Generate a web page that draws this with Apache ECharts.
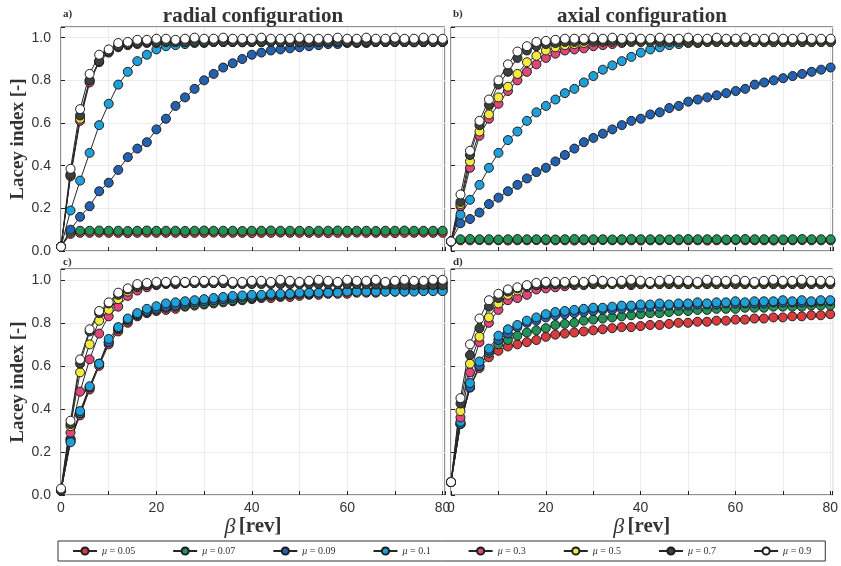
<!DOCTYPE html>
<html>
<head>
<meta charset="utf-8">
<script src="https://cdn.jsdelivr.net/npm/echarts/dist/echarts.min.js"></script>
<style>
  html, body { margin: 0; padding: 0; background: #fff; }
  #chart { width: 841px; height: 566px; }
</style>
</head>
<body>
<div id="chart"></div>
<script>
// revolutions (x values shared by every curve)
const betaRev = [
  0, 2, 4, 6, 8, 10, 12, 14, 16, 18,
  20, 22, 24, 26, 28, 30, 32, 34, 36, 38,
  40, 42, 44, 46, 48, 50, 52, 54, 56, 58,
  60, 62, 64, 66, 68, 70, 72, 74, 76, 78,
  80
];
const xTicks = [0, 20, 40, 60, 80];
const yTicks = [0, 0.2, 0.4, 0.6, 0.8, 1.0];
const muNames = ["μ = 0.05", "μ = 0.07", "μ = 0.09", "μ = 0.1", "μ = 0.3", "μ = 0.5", "μ = 0.7", "μ = 0.9"];
const muColors = ["#d93b3f", "#239257", "#2262b0", "#1fa0d8", "#e04679", "#f2ea3e", "#3c403f", "#ffffff"];

// a) radial configuration
const panelAMu005 = [
  0.02, 0.080, 0.085, 0.085, 0.086, 0.085, 0.085, 0.084, 0.085, 0.086,
  0.085, 0.085, 0.085, 0.084, 0.085, 0.085, 0.086, 0.085, 0.085, 0.085,
  0.084, 0.085, 0.085, 0.086, 0.085, 0.085, 0.085, 0.085, 0.084, 0.085,
  0.085, 0.086, 0.085, 0.085, 0.085, 0.084, 0.085, 0.085, 0.086, 0.085,
  0.085
];
const panelAMu007 = [
  0.02, 0.090, 0.095, 0.095, 0.096, 0.095, 0.095, 0.094, 0.095, 0.096,
  0.095, 0.095, 0.095, 0.094, 0.095, 0.096, 0.095, 0.095, 0.095, 0.094,
  0.095, 0.095, 0.096, 0.095, 0.095, 0.095, 0.094, 0.095, 0.095, 0.096,
  0.095, 0.095, 0.095, 0.094, 0.095, 0.095, 0.096, 0.095, 0.095, 0.095,
  0.095
];
const panelAMu009 = [
  0.02, 0.10, 0.16, 0.21, 0.28, 0.32, 0.38, 0.44, 0.48, 0.51,
  0.57, 0.62, 0.68, 0.72, 0.76, 0.80, 0.83, 0.86, 0.88, 0.90,
  0.92, 0.93, 0.94, 0.945, 0.95, 0.955, 0.96, 0.965, 0.97, 0.97,
  0.975, 0.975, 0.975, 0.98, 0.98, 0.98, 0.98, 0.98, 0.98, 0.98,
  0.98
];
const panelAMu01 = [
  0.02, 0.19, 0.33, 0.46, 0.59, 0.69, 0.78, 0.84, 0.89, 0.92,
  0.945, 0.96, 0.965, 0.97, 0.975, 0.975, 0.98, 0.98, 0.98, 0.98,
  0.98, 0.98, 0.98, 0.98, 0.98, 0.98, 0.98, 0.98, 0.98, 0.98,
  0.98, 0.98, 0.98, 0.98, 0.98, 0.98, 0.98, 0.98, 0.98, 0.98,
  0.98
];
const panelAMu03 = [
  0.02, 0.35, 0.61, 0.79, 0.885, 0.93, 0.955, 0.965, 0.97, 0.975,
  0.975, 0.98, 0.98, 0.98, 0.98, 0.98, 0.98, 0.98, 0.98, 0.98,
  0.98, 0.98, 0.98, 0.98, 0.98, 0.98, 0.98, 0.98, 0.98, 0.98,
  0.98, 0.98, 0.98, 0.98, 0.98, 0.98, 0.98, 0.98, 0.98, 0.98,
  0.98
];
const panelAMu05 = [
  0.02, 0.355, 0.62, 0.80, 0.89, 0.935, 0.96, 0.97, 0.975, 0.98,
  0.98, 0.98, 0.98, 0.98, 0.98, 0.98, 0.98, 0.98, 0.98, 0.98,
  0.98, 0.98, 0.98, 0.98, 0.98, 0.98, 0.98, 0.98, 0.98, 0.98,
  0.98, 0.98, 0.98, 0.98, 0.98, 0.98, 0.98, 0.98, 0.98, 0.98,
  0.98
];
const panelAMu07 = [
  0.02, 0.36, 0.635, 0.80, 0.89, 0.935, 0.96, 0.97, 0.975, 0.98,
  0.98, 0.982, 0.98, 0.978, 0.98, 0.98, 0.982, 0.98, 0.98, 0.978,
  0.98, 0.98, 0.982, 0.98, 0.98, 0.978, 0.98, 0.98, 0.982, 0.98,
  0.98, 0.978, 0.98, 0.98, 0.982, 0.98, 0.98, 0.978, 0.98, 0.98,
  0.98
];
const panelAMu09 = [
  0.02, 0.385, 0.665, 0.83, 0.92, 0.945, 0.975, 0.98, 0.99, 0.99,
  0.995, 0.995, 0.99, 0.995, 1.0, 0.995, 0.995, 1.0, 0.995, 0.995,
  0.995, 1.0, 0.995, 0.995, 0.995, 1.0, 0.995, 0.995, 0.995, 1.0,
  0.995, 0.995, 1.0, 0.995, 0.995, 1.0, 0.995, 0.995, 1.0, 0.995,
  0.995
];

// b) axial configuration
const panelBMu005 = [
  0.045, 0.050, 0.050, 0.051, 0.050, 0.050, 0.049, 0.050, 0.050, 0.051,
  0.050, 0.050, 0.050, 0.049, 0.050, 0.050, 0.051, 0.050, 0.050, 0.050,
  0.049, 0.050, 0.050, 0.051, 0.050, 0.050, 0.050, 0.049, 0.050, 0.050,
  0.051, 0.050, 0.050, 0.050, 0.049, 0.050, 0.050, 0.051, 0.050, 0.050,
  0.050
];
const panelBMu007 = [
  0.045, 0.055, 0.056, 0.055, 0.055, 0.054, 0.055, 0.056, 0.055, 0.055,
  0.055, 0.054, 0.055, 0.056, 0.055, 0.055, 0.055, 0.054, 0.055, 0.056,
  0.055, 0.055, 0.055, 0.054, 0.055, 0.056, 0.055, 0.055, 0.055, 0.054,
  0.055, 0.056, 0.055, 0.055, 0.055, 0.054, 0.055, 0.056, 0.055, 0.055,
  0.055
];
const panelBMu009 = [
  0.045, 0.13, 0.15, 0.18, 0.22, 0.25, 0.28, 0.31, 0.34, 0.37,
  0.39, 0.42, 0.45, 0.48, 0.51, 0.53, 0.55, 0.57, 0.59, 0.61,
  0.62, 0.64, 0.65, 0.67, 0.68, 0.70, 0.71, 0.72, 0.73, 0.74,
  0.75, 0.76, 0.78, 0.79, 0.80, 0.81, 0.82, 0.83, 0.84, 0.85,
  0.86
];
const panelBMu01 = [
  0.045, 0.17, 0.24, 0.31, 0.39, 0.46, 0.52, 0.56, 0.61, 0.65,
  0.68, 0.71, 0.74, 0.76, 0.79, 0.82, 0.85, 0.87, 0.89, 0.91,
  0.93, 0.945, 0.955, 0.965, 0.97, 0.975, 0.975, 0.98, 0.98, 0.98,
  0.98, 0.98, 0.98, 0.98, 0.98, 0.98, 0.98, 0.98, 0.98, 0.98,
  0.98
];
const panelBMu03 = [
  0.045, 0.21, 0.39, 0.54, 0.62, 0.69, 0.75, 0.80, 0.84, 0.875,
  0.905, 0.925, 0.94, 0.945, 0.95, 0.96, 0.965, 0.97, 0.975, 0.98,
  0.98, 0.98, 0.98, 0.98, 0.98, 0.98, 0.98, 0.98, 0.98, 0.98,
  0.98, 0.98, 0.98, 0.98, 0.98, 0.98, 0.98, 0.98, 0.98, 0.98,
  0.98
];
const panelBMu05 = [
  0.045, 0.22, 0.42, 0.56, 0.64, 0.72, 0.77, 0.83, 0.885, 0.915,
  0.94, 0.955, 0.965, 0.97, 0.975, 0.98, 0.98, 0.98, 0.98, 0.98,
  0.98, 0.98, 0.98, 0.98, 0.98, 0.98, 0.98, 0.98, 0.98, 0.98,
  0.98, 0.98, 0.98, 0.98, 0.98, 0.98, 0.98, 0.98, 0.98, 0.98,
  0.98
];
const panelBMu07 = [
  0.045, 0.23, 0.45, 0.59, 0.685, 0.78, 0.84, 0.905, 0.94, 0.96,
  0.97, 0.975, 0.98, 0.98, 0.985, 0.985, 0.985, 0.985, 0.985, 0.985,
  0.985, 0.985, 0.985, 0.985, 0.985, 0.985, 0.985, 0.985, 0.985, 0.985,
  0.985, 0.985, 0.985, 0.985, 0.985, 0.985, 0.985, 0.985, 0.985, 0.985,
  0.985
];
const panelBMu09 = [
  0.045, 0.265, 0.47, 0.61, 0.71, 0.80, 0.875, 0.935, 0.96, 0.98,
  0.985, 0.99, 0.995, 0.995, 0.995, 1.0, 0.995, 1.0, 0.995, 1.0,
  0.995, 0.995, 1.0, 0.995, 0.995, 1.0, 0.995, 0.995, 1.0, 0.995,
  0.995, 1.0, 0.995, 0.995, 1.0, 0.995, 0.995, 1.0, 0.995, 0.995,
  0.995
];

// c) radial, lower row
const panelCMu005 = [
  0.02, 0.26, 0.37, 0.49, 0.60, 0.70, 0.76, 0.80, 0.83, 0.845,
  0.855, 0.86, 0.865, 0.875, 0.88, 0.885, 0.89, 0.895, 0.90, 0.905,
  0.91, 0.915, 0.915, 0.92, 0.92, 0.925, 0.93, 0.93, 0.935, 0.935,
  0.935, 0.94, 0.94, 0.94, 0.945, 0.945, 0.945, 0.95, 0.95, 0.95,
  0.95
];
const panelCMu007 = [
  0.02, 0.26, 0.38, 0.50, 0.61, 0.71, 0.77, 0.81, 0.835, 0.85,
  0.86, 0.87, 0.875, 0.88, 0.885, 0.89, 0.895, 0.90, 0.905, 0.91,
  0.915, 0.92, 0.925, 0.925, 0.93, 0.935, 0.935, 0.94, 0.94, 0.945,
  0.945, 0.95, 0.95, 0.95, 0.955, 0.955, 0.955, 0.96, 0.96, 0.96,
  0.96
];
const panelCMu009 = [
  0.02, 0.25, 0.38, 0.50, 0.61, 0.71, 0.775, 0.815, 0.84, 0.855,
  0.865, 0.875, 0.88, 0.89, 0.895, 0.90, 0.905, 0.91, 0.915, 0.92,
  0.92, 0.925, 0.93, 0.93, 0.935, 0.935, 0.94, 0.94, 0.945, 0.945,
  0.95, 0.95, 0.95, 0.955, 0.955, 0.96, 0.96, 0.96, 0.965, 0.965,
  0.965
];
const panelCMu01 = [
  0.02, 0.245, 0.39, 0.505, 0.61, 0.725, 0.78, 0.82, 0.845, 0.865,
  0.877, 0.89, 0.895, 0.90, 0.905, 0.91, 0.915, 0.92, 0.925, 0.927,
  0.93, 0.93, 0.935, 0.935, 0.935, 0.94, 0.94, 0.94, 0.94, 0.94,
  0.945, 0.945, 0.945, 0.945, 0.945, 0.945, 0.945, 0.945, 0.947, 0.947,
  0.947
];
const panelCMu03 = [
  0.02, 0.29, 0.48, 0.63, 0.75, 0.83, 0.875, 0.925, 0.95, 0.965,
  0.975, 0.98, 0.98, 0.985, 0.985, 0.985, 0.985, 0.985, 0.985, 0.985,
  0.985, 0.985, 0.985, 0.985, 0.985, 0.985, 0.985, 0.985, 0.985, 0.985,
  0.985, 0.985, 0.985, 0.985, 0.985, 0.985, 0.985, 0.985, 0.985, 0.985,
  0.985
];
const panelCMu05 = [
  0.02, 0.32, 0.57, 0.70, 0.81, 0.86, 0.91, 0.945, 0.965, 0.975,
  0.98, 0.985, 0.985, 0.985, 0.985, 0.985, 0.985, 0.985, 0.985, 0.985,
  0.985, 0.985, 0.985, 0.985, 0.985, 0.985, 0.985, 0.985, 0.985, 0.985,
  0.985, 0.985, 0.985, 0.985, 0.985, 0.985, 0.985, 0.985, 0.985, 0.985,
  0.985
];
const panelCMu07 = [
  0.02, 0.33, 0.61, 0.76, 0.845, 0.89, 0.93, 0.955, 0.97, 0.975,
  0.98, 0.985, 0.985, 0.985, 0.985, 0.985, 0.985, 0.985, 0.98, 0.98,
  0.98, 0.98, 0.98, 0.98, 0.98, 0.98, 0.98, 0.98, 0.98, 0.98,
  0.98, 0.98, 0.98, 0.978, 0.978, 0.978, 0.975, 0.975, 0.975, 0.975,
  0.975
];
const panelCMu09 = [
  0.03, 0.345, 0.63, 0.77, 0.855, 0.895, 0.94, 0.96, 0.98, 0.985,
  0.99, 0.99, 0.995, 0.99, 0.995, 0.995, 0.995, 1.0, 0.99, 0.99,
  0.995, 0.995, 0.99, 1.0, 0.995, 0.99, 0.995, 1.0, 0.995, 0.99,
  1.0, 0.995, 0.995, 1.0, 0.99, 0.995, 1.0, 0.995, 0.995, 1.0,
  1.0
];

// d) axial, lower row
const panelDMu005 = [
  0.06, 0.33, 0.50, 0.59, 0.64, 0.67, 0.69, 0.70, 0.71, 0.72,
  0.735, 0.745, 0.75, 0.755, 0.76, 0.765, 0.77, 0.775, 0.78, 0.78,
  0.785, 0.79, 0.79, 0.795, 0.80, 0.80, 0.805, 0.805, 0.81, 0.81,
  0.815, 0.815, 0.82, 0.82, 0.825, 0.825, 0.83, 0.83, 0.835, 0.835,
  0.84
];
const panelDMu007 = [
  0.06, 0.33, 0.50, 0.60, 0.66, 0.70, 0.72, 0.74, 0.755, 0.765,
  0.775, 0.79, 0.795, 0.80, 0.81, 0.815, 0.82, 0.825, 0.83, 0.835,
  0.84, 0.845, 0.845, 0.85, 0.855, 0.855, 0.86, 0.86, 0.865, 0.865,
  0.865, 0.87, 0.87, 0.87, 0.875, 0.875, 0.875, 0.875, 0.88, 0.88,
  0.88
];
const panelDMu009 = [
  0.06, 0.33, 0.50, 0.60, 0.67, 0.72, 0.75, 0.78, 0.80, 0.81,
  0.825, 0.835, 0.84, 0.845, 0.85, 0.855, 0.86, 0.86, 0.865, 0.87,
  0.87, 0.875, 0.875, 0.88, 0.88, 0.88, 0.885, 0.885, 0.885, 0.89,
  0.89, 0.89, 0.89, 0.89, 0.895, 0.895, 0.895, 0.895, 0.895, 0.90,
  0.90
];
const panelDMu01 = [
  0.06, 0.34, 0.52, 0.62, 0.68, 0.74, 0.77, 0.79, 0.81, 0.825,
  0.84, 0.85, 0.855, 0.86, 0.865, 0.87, 0.87, 0.875, 0.88, 0.88,
  0.885, 0.885, 0.89, 0.885, 0.89, 0.89, 0.895, 0.89, 0.895, 0.895,
  0.90, 0.895, 0.90, 0.90, 0.90, 0.905, 0.90, 0.905, 0.90, 0.905,
  0.905
];
const panelDMu03 = [
  0.06, 0.36, 0.57, 0.71, 0.80, 0.86, 0.905, 0.915, 0.93, 0.955,
  0.96, 0.965, 0.97, 0.975, 0.975, 0.98, 0.98, 0.98, 0.98, 0.975,
  0.98, 0.98, 0.98, 0.98, 0.98, 0.98, 0.98, 0.98, 0.98, 0.98,
  0.98, 0.98, 0.98, 0.98, 0.98, 0.98, 0.98, 0.98, 0.98, 0.98,
  0.98
];
const panelDMu05 = [
  0.06, 0.39, 0.61, 0.735, 0.825, 0.89, 0.93, 0.95, 0.965, 0.975,
  0.98, 0.98, 0.98, 0.98, 0.98, 0.98, 0.98, 0.98, 0.98, 0.98,
  0.98, 0.98, 0.98, 0.98, 0.98, 0.98, 0.98, 0.98, 0.98, 0.98,
  0.98, 0.98, 0.98, 0.98, 0.98, 0.98, 0.98, 0.98, 0.98, 0.98,
  0.98
];
const panelDMu07 = [
  0.06, 0.425, 0.65, 0.775, 0.875, 0.915, 0.945, 0.96, 0.97, 0.975,
  0.98, 0.98, 0.985, 0.985, 0.985, 0.985, 0.985, 0.985, 0.985, 0.985,
  0.985, 0.985, 0.985, 0.985, 0.985, 0.985, 0.985, 0.985, 0.985, 0.985,
  0.985, 0.985, 0.985, 0.985, 0.985, 0.985, 0.985, 0.985, 0.985, 0.985,
  0.985
];
const panelDMu09 = [
  0.06, 0.45, 0.70, 0.82, 0.905, 0.935, 0.955, 0.965, 0.975, 0.985,
  0.99, 0.99, 0.99, 0.995, 0.99, 1.0, 0.995, 0.99, 0.995, 1.0,
  0.995, 0.99, 0.995, 1.0, 0.995, 0.995, 0.99, 1.0, 0.995, 0.995,
  1.0, 0.995, 0.99, 0.995, 1.0, 0.995, 0.995, 1.0, 0.995, 0.995,
  0.995
];

const panelSeries = [
  [panelAMu005, panelAMu007, panelAMu009, panelAMu01, panelAMu03, panelAMu05, panelAMu07, panelAMu09],
  [panelBMu005, panelBMu007, panelBMu009, panelBMu01, panelBMu03, panelBMu05, panelBMu07, panelBMu09],
  [panelCMu005, panelCMu007, panelCMu009, panelCMu01, panelCMu03, panelCMu05, panelCMu07, panelCMu09],
  [panelDMu005, panelDMu007, panelDMu009, panelDMu01, panelDMu03, panelDMu05, panelDMu07, panelDMu09]
];

const grids = [
  { left: 61, top: 27, width: 384, height: 224 },
  { left: 451, top: 27, width: 382, height: 224 },
  { left: 61, top: 269, width: 384, height: 226 },
  { left: 451, top: 269, width: 382, height: 226 }
];

const serif = "'Liberation Serif', 'DejaVu Serif', serif";
const sans = "'Liberation Sans', Arial, sans-serif";

const isOn = (v, list) => list.some((t) => Math.abs(t - v) < 1e-6);

const chart = echarts.init(document.getElementById("chart"));

const xAxes = grids.map((g, i) => ({
  type: "value",
  gridIndex: i,
  min: 0,
  max: 80.5,
  interval: 10,
  axisLine: { show: false },
  axisTick: { show: true, inside: true, length: 4, lineStyle: { color: "#222" } },
  splitLine: { show: true, lineStyle: { color: "#ececec", width: 1 } },
  axisLabel: {
    show: i >= 2,
    margin: 6,
    color: "#333",
    fontSize: 14,
    fontFamily: sans,
    formatter: (v) => (isOn(v, xTicks) ? String(v) : "")
  },
  name: i >= 2 ? "{b|β} {r|[rev]}" : "",
  nameLocation: "middle",
  nameGap: 18,
  nameTextStyle: {
    rich: {
      b: { fontFamily: serif, fontStyle: "italic", fontSize: 22, color: "#333" },
      r: { fontFamily: serif, fontWeight: "bold", fontSize: 21, color: "#333" }
    }
  }
}));

const yAxes = grids.map((g, i) => ({
  type: "value",
  gridIndex: i,
  min: 0,
  max: 1.05,
  interval: 0.2,
  axisLine: { show: false },
  axisTick: { show: true, inside: true, length: 4, lineStyle: { color: "#222" } },
  splitLine: { show: true, lineStyle: { color: "#ececec", width: 1 } },
  axisLabel: {
    show: i % 2 === 0,
    margin: 10,
    color: "#333",
    fontSize: 14,
    fontFamily: sans,
    formatter: (v) => (isOn(v, yTicks) ? v.toFixed(1) : "")
  },
  name: i % 2 === 0 ? "Lacey index [-]" : "",
  nameLocation: "middle",
  nameGap: 30,
  nameTextStyle: { fontFamily: serif, fontWeight: "bold", fontSize: 19, color: "#333" }
}));

const series = [];
panelSeries.forEach((curves, p) => {
  curves.forEach((vals, k) => {
    series.push({
      type: "line",
      name: muNames[k],
      xAxisIndex: p,
      yAxisIndex: p,
      data: betaRev.map((b, j) => [b, vals[j]]),
      symbol: "circle",
      symbolSize: 9,
      clip: false,
      itemStyle: { color: muColors[k], borderColor: "#1e1e1e", borderWidth: 1 },
      lineStyle: { color: "#262626", width: 1 },
      emphasis: { disabled: true }
    });
  });
});

const labelText = (text, x, y, size, align) => ({
  type: "text",
  x: x,
  y: y,
  style: {
    text: text,
    fontFamily: serif,
    fontWeight: "bold",
    fontSize: size,
    fill: "#333",
    align: align,
    verticalAlign: "middle"
  }
});

chart.setOption({
  animation: false,
  backgroundColor: "#fff",
  grid: grids.map((g) => Object.assign({ show: true, borderColor: "#222", borderWidth: 1, backgroundColor: "transparent" }, g)),
  xAxis: xAxes,
  yAxis: yAxes,
  legend: {
    data: muNames,
    left: 58,
    top: 541,
    orient: "horizontal",
    itemWidth: 24,
    itemHeight: 9,
    itemGap: 37,
    padding: [5, 14],
    borderColor: "#333",
    borderWidth: 1,
    borderRadius: 0,
    formatter: (n) => "{m|μ}" + n.slice(1),
    textStyle: {
      fontFamily: serif,
      fontSize: 10,
      color: "#333",
      rich: { m: { fontFamily: serif, fontStyle: "italic", fontSize: 10, color: "#333" } }
    }
  },
  graphic: [
    labelText("radial configuration", 253, 17, 21, "center"),
    labelText("axial configuration", 642, 17, 21, "center"),
    labelText("a)", 63, 14, 11, "left"),
    labelText("b)", 453, 14, 11, "left"),
    labelText("c)", 63, 262, 11, "left"),
    labelText("d)", 453, 262, 11, "left")
  ],
  series: series
});
</script>
</body>
</html>
